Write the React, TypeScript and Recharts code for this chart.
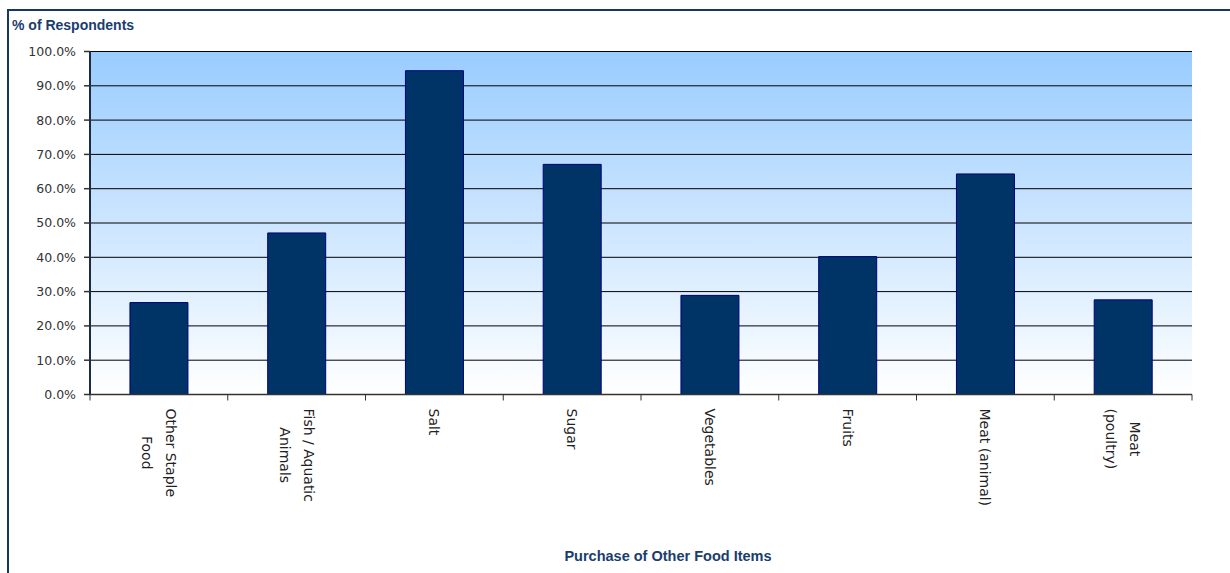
import React from 'react';
import { BarChart, Bar, XAxis, YAxis, CartesianGrid } from 'recharts';

// categories and % of respondents
const categories = [
  'Other Staple\nFood',
  'Fish / Aquatic\nAnimals',
  'Salt',
  'Sugar',
  'Vegetables',
  'Fruits',
  'Meat (animal)',
  'Meat\n(poultry)',
];
const percentages = [26.8, 47.1, 94.4, 67.1, 28.9, 40.2, 64.3, 27.6];
const yTicks = [0, 10, 20, 30, 40, 50, 60, 70, 80, 90, 100];

const yTitle = '% of Respondents';
const xTitle = 'Purchase of Other Food Items';

const data = categories.map((name, i) => ({ name, value: percentages[i] }));

const TICK_FONT = '14px "DejaVu Sans"';
const TITLE_COLOR = '#1a3d6e';

let measureCtx: CanvasRenderingContext2D | null = null;
const textWidth = (s: string) => {
  if (!measureCtx && typeof document !== 'undefined') {
    measureCtx = document.createElement('canvas').getContext('2d');
  }
  if (!measureCtx) return s.length * 7.5;
  measureCtx.font = TICK_FONT;
  return measureCtx.measureText(s).width;
};

// rotated, multi-line category label plus tick marks at the category edges
const CategoryTick = (props: any) => {
  const { x, y, payload, index, width, visibleTicksCount } = props;
  const count = visibleTicksCount || categories.length;
  const band = (width || 1102) / count;
  const lines = String(payload.value).split('\n');
  const blockLen = Math.max(...lines.map(textWidth));
  const lineH = 24;
  const left = x - band / 2;
  const right = x + band / 2;
  return (
    <g>
      <line x1={left} x2={left} y1={y - 6} y2={y} stroke="#333" strokeWidth={1} />
      {index === count - 1 && <line x1={right} x2={right} y1={y - 6} y2={y} stroke="#333" strokeWidth={1} />}
      <g transform={`translate(${x}, ${y + 8}) rotate(90)`}>
        {lines.map((ln, i) => (
          <text
            key={i}
            x={blockLen / 2}
            y={(i - (lines.length - 1) / 2) * lineH}
            textAnchor="middle"
            dominantBaseline="central"
            fontFamily='"DejaVu Sans"'
            fontSize={14}
            fill="#222"
          >
            {ln}
          </text>
        ))}
      </g>
    </g>
  );
};

const App: React.FC = () => {
  return (
    <div style={{ position: 'absolute', left: 0, top: 0, width: 1230, height: 573, background: '#fff', overflow: 'hidden' }}>
      <svg width={0} height={0} style={{ position: 'absolute' }}>
        <defs>
          <linearGradient id="plotBg" x1="0" y1="0" x2="0" y2="1">
            <stop offset="0%" stopColor="#99CCFF" />
            <stop offset="100%" stopColor="#FFFFFF" />
          </linearGradient>
        </defs>
      </svg>

      {/* outer chart frame: top and left edges only */}
      <div
        style={{
          position: 'absolute',
          left: 7,
          top: 9,
          right: 0,
          bottom: 0,
          borderTop: '2px solid #17375E',
          borderLeft: '2px solid #17375E',
        }}
      />

      <div style={{ position: 'absolute', left: 0, top: 0 }}>
        <BarChart
          width={1230}
          height={573}
          data={data}
          margin={{ top: 51.5, right: 38, left: 0, bottom: 8.5 }}
          barCategoryGap="29%"
        >
          <CartesianGrid vertical={false} stroke="#000" strokeWidth={1} fill="url(#plotBg)" fillOpacity={1} />
          <XAxis
            dataKey="name"
            height={170}
            interval={0}
            tickSize={6}
            tickMargin={0}
            tickLine={false}
            axisLine={{ stroke: '#333', strokeWidth: 1.5 }}
            tick={<CategoryTick />}
          />
          <YAxis
            width={90}
            domain={[0, 100]}
            ticks={yTicks}
            interval={0}
            tickSize={6}
            tickMargin={8}
            tickLine={{ stroke: '#333', strokeWidth: 1.5 }}
            axisLine={{ stroke: '#1c2b45', strokeWidth: 2 }}
            tickFormatter={(v: number) => `${v.toFixed(1)}%`}
            tick={{ fontSize: 12.5, fill: '#333', fontFamily: '"DejaVu Sans"' }}
          />
          <YAxis
            yAxisId="r"
            orientation="right"
            width={0}
            domain={[0, 100]}
            tick={false}
            tickLine={false}
            axisLine={{ stroke: '#17375E', strokeWidth: 2 }}
          />
          <Bar dataKey="value" fill="#003366" stroke="#000080" strokeWidth={1} isAnimationActive={false} />
        </BarChart>
      </div>

      <div
        style={{
          position: 'absolute',
          left: 12,
          top: 18,
          fontFamily: '"Liberation Sans", Arial, sans-serif',
          fontWeight: 'bold',
          fontSize: 14,
          lineHeight: '14px',
          color: TITLE_COLOR,
          whiteSpace: 'nowrap',
        }}
      >
        {yTitle}
      </div>
      <div
        style={{
          position: 'absolute',
          left: 518,
          width: 300,
          top: 549,
          textAlign: 'center',
          fontFamily: '"Liberation Sans", Arial, sans-serif',
          fontWeight: 'bold',
          fontSize: 14.5,
          lineHeight: '14px',
          color: TITLE_COLOR,
          whiteSpace: 'nowrap',
        }}
      >
        {xTitle}
      </div>
    </div>
  );
};

export default App;
